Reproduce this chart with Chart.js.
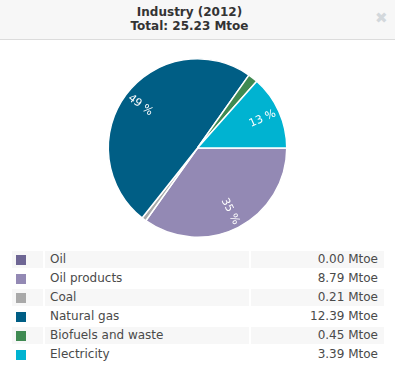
<!DOCTYPE html>
<html>
<head>
<meta charset="utf-8">
<script src="https://cdn.jsdelivr.net/npm/chart.js@4/dist/chart.umd.min.js"></script>
<style>
    html, body {margin: 0; padding: 0; background: #fff; width: 395px; height: 369px; overflow: hidden;}
    body {position: relative; font-family: "DejaVu Sans", Verdana, sans-serif;}
    .header {position: absolute; left: 0; top: 0; width: 395px; height: 39px; background: #f7f7f7; border-bottom: 1px solid #dcdcdc;}
    .title {position: absolute; left: 0; top: 5px; width: 379px; text-align: center; font-weight: bold; font-size: 12px; line-height: 14px; color: #333;}
    .close {position: absolute; left: 375px; top: 9px; font-size: 15px; font-weight: bold; color: #d3d8dc;}
    .chart-box {position: absolute; left: 0; top: 44px; width: 395px; height: 200px;}
    table {position: absolute; left: 10px; top: 249px; border-spacing: 2px; font-size: 12px; color: #4a4a4a;}
    td {height: 17px; padding: 0; line-height: 17px;}
    tr.odd td {background: #f7f7f7;}
    td.sw {width: 31px;}
    td.sw span {display: block; width: 10px; height: 10px; margin-left: 4px;}
    td.lbl {width: 199px; padding-left: 5px;}
    td.val {width: 127px; padding-right: 6px; text-align: right;}
</style>
</head>
<body>
<div class="header">
    <div class="title">Industry (2012)<br>Total: 25.23 Mtoe</div>
    <div class="close">&#10006;</div>
</div>
<div class="chart-box"><canvas id="pie"></canvas></div>
<table id="legend"></table>
<script>
const categories = ['Oil', 'Oil products', 'Coal', 'Natural gas', 'Biofuels and waste', 'Electricity'];
const values = [0.00, 8.79, 0.21, 12.39, 0.45, 3.39];
const colors = ['#6e6694', '#9389b4', '#a9a9a9', '#005e85', '#3f8a52', '#00b3d1'];
const unit = 'Mtoe';

// legend table
const table = document.getElementById('legend');
categories.forEach((name, i) => {
    const tr = document.createElement('tr');
    if (i % 2 === 0) tr.className = 'odd';
    tr.innerHTML = `<td class="sw"><span style="background:${colors[i]}"></span></td>` +
        `<td class="lbl">${name}</td><td class="val">${values[i].toFixed(2)} ${unit}</td>`;
    table.appendChild(tr);
});

// rotated percentage labels inside the slices
const sliceLabels = {
    id: 'sliceLabels',
    afterDatasetsDraw(chart) {
        const ctx = chart.ctx;
        const meta = chart.getDatasetMeta(0);
        const total = values.reduce((a, b) => a + b, 0);
        ctx.save();
        ctx.font = '11px "DejaVu Sans", Verdana, sans-serif';
        ctx.fillStyle = '#fff';
        ctx.textAlign = 'center';
        ctx.textBaseline = 'middle';
        meta.data.forEach((arc, i) => {
            const pct = values[i] / total * 100;
            if (pct < 5) return;
            const mid = (arc.startAngle + arc.endAngle) / 2;
            const r = arc.outerRadius * 0.8;
            const x = arc.x + Math.cos(mid) * r;
            const y = arc.y + Math.sin(mid) * r;
            let rot = mid;
            if (Math.cos(mid) < 0) rot += Math.PI;
            ctx.translate(x, y);
            ctx.rotate(rot);
            ctx.fillText(Math.round(pct) + ' %', 0, 0);
            ctx.setTransform(1, 0, 0, 1, 0, 0);
        });
        ctx.restore();
    }
};

new Chart(document.getElementById('pie').getContext('2d'), {
    type: 'pie',
    data: {
        labels: categories,
        datasets: [{data: values, backgroundColor: colors, borderColor: '#fff', borderWidth: 1.5}]
    },
    options: {
        responsive: true,
        maintainAspectRatio: false,
        animation: false,
        rotation: 90,
        layout: {padding: {top: 14, bottom: 6}},
        plugins: {legend: {display: false}, tooltip: {enabled: false}}
    },
    plugins: [sliceLabels]
});
</script>
</body>
</html>
